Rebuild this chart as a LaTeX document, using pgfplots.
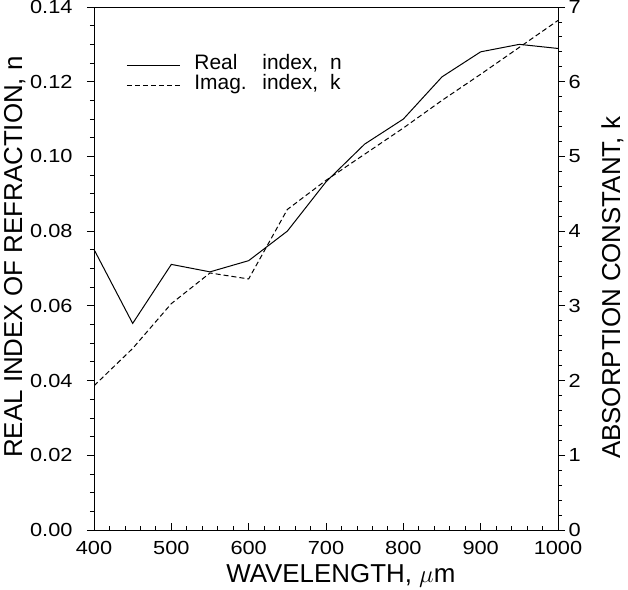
\documentclass[border=0pt]{standalone}
\usepackage{fontspec}
\setmainfont{Liberation Sans}
\newfontfamily\tickfont[FakeStretch=1.15]{Liberation Sans}
\usepackage{pgfplots}
\pgfplotsset{compat=1.18}
\begin{document}
\begin{tikzpicture}
\pgfplotsset{
  common/.style={
    at={(0,0)}, anchor=south west, scale only axis,
    width=464bp, height=523bp,
    xmin=400, xmax=1000,
    major tick length=7bp, minor tick length=4bp,
    every tick/.style={black, line width=0.8bp},
    axis line style={line width=0.9bp},
    tick label style={font=\tickfont\fontsize{19}{19}\selectfont},
    /pgf/number format/assume math mode=true,
    label style={font=\fontsize{26}{26}\selectfont},
  }
}
\begin{axis}[common,
  ymin=0, ymax=0.14,
  xtick={400,500,...,1000}, minor x tick num=4,
  ytick={0,0.02,0.04,0.06,0.08,0.10,0.12,0.14}, minor y tick num=3,
  xtick pos=left, ytick pos=left,
  xtick align=inside, ytick align=outside,
  yticklabel style={/pgf/number format/.cd, fixed, fixed zerofill, precision=2, /tikz/.cd, xshift=-11bp},
  xticklabel style={/pgf/number format/.cd, set thousands separator={}, /tikz/.cd, yshift=-8bp},
  xlabel={WAVELENGTH, $\mu$m},
  ylabel={REAL INDEX OF REFRACTION, n},
  xlabel style={at={(axis description cs:0.532,-0.088)}, anchor=center},
  ylabel style={at={(axis description cs:-0.171,0.522)}, anchor=center},
  legend style={draw=none, fill=none, at={(axis description cs:0.063,0.912)}, anchor=north west,
    font=\fontsize{21}{21}\selectfont,
    nodes={inner sep=0pt, text height=14bp, text depth=6bp},
    cells={anchor=west}, column sep=14bp},
  legend image code/.code={\draw[#1] (0bp,0bp) -- (53bp,0bp);},
]
\addplot[black, line width=1bp] coordinates {
(400,0.0751) (450,0.0553) (500,0.0711) (550,0.0691) (600,0.0721) (650,0.0800)
(700,0.0932) (750,0.1033) (800,0.1100) (850,0.1213) (900,0.1280) (950,0.1300) (1000,0.1289)};
\addlegendentry{\makebox[68bp][l]{Real}index,\hspace{12bp}n}
\addlegendimage{black, line width=1bp, dash pattern=on 5bp off 3bp}
\addlegendentry{\makebox[68bp][l]{Imag.}index,\hspace{12bp}k}
\end{axis}
\begin{axis}[common,
  ymin=0, ymax=7,
  axis x line=none, axis y line*=right,
  ytick={0,1,...,7}, minor y tick num=4,
  ytick align=outside,
  ylabel={ABSORPTION CONSTANT, k},
  ylabel style={at={(axis description cs:1.117,0.463)}, anchor=center, rotate=0},
]
\addplot[black, line width=1bp, dash pattern=on 5bp off 3bp] coordinates {
(400,1.93) (450,2.43) (500,3.03) (550,3.44) (600,3.36) (650,4.29) (700,4.68)
(750,5.03) (800,5.38) (850,5.75) (900,6.10) (950,6.46) (1000,6.82)};
\end{axis}
\pgfresetboundingbox
\path[use as bounding box] (-94bp,-60bp) rectangle (534bp,530bp);
\end{tikzpicture}
\end{document}
